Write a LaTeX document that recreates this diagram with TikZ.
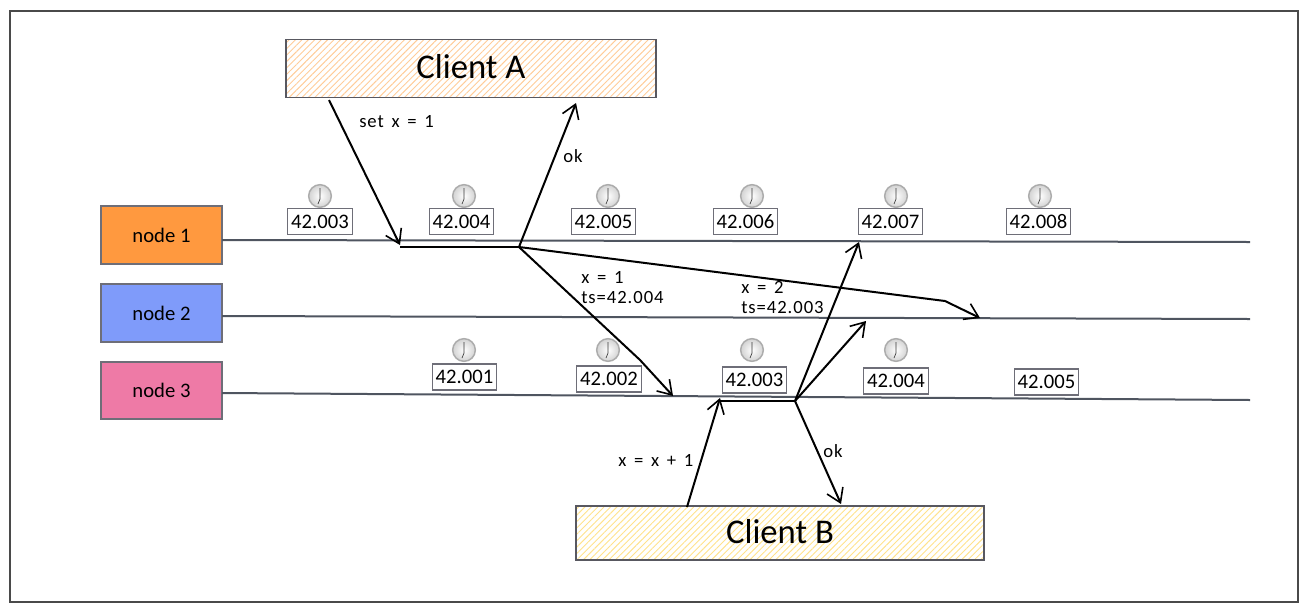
\documentclass[tikz,border=0pt]{standalone}
\usepackage{fontspec}
\setmainfont{Carlito}
\newfontfamily\msgfont[LetterSpace=5,WordSpace=1.5]{Carlito}
\usetikzlibrary{patterns.meta,arrows.meta}
\definecolor{frameGray}{HTML}{4A4A4A}
\definecolor{boxGray}{HTML}{6E6E78}
\definecolor{lineGray}{HTML}{4F5560}
\tikzset{
  nodebox/.style={draw=boxGray,line width=1.4pt,minimum width=90.75pt,minimum height=43pt,inner sep=0pt,font=\fontsize{15.5}{18}\selectfont},
  clientbox/.style={draw=boxGray!80!black,line width=0.9pt,inner sep=0pt,text depth=3pt,font=\fontsize{26}{28}\selectfont},
  tsbox/.style={draw=boxGray,fill=white,line width=0.8pt,minimum width=48.5pt,minimum height=19.5pt,inner sep=0pt,font=\fontsize{15.5}{18}\selectfont},
  msg/.style={font=\fontsize{14}{15}\selectfont\msgfont,align=left,inner sep=0pt},
  wire/.style={line width=1.5pt,black,line join=round},
  send/.style={wire,-{Straight Barb[length=10pt,width=13pt,line width=1.2pt]}},
  timeline/.style={line width=1.5pt,lineGray},
  clockface/.style={circle,minimum size=17pt,inner sep=0pt,draw=gray!65,line width=1.1pt,inner color=white,outer color=gray!35},
  clock/.pic={
    \node[clockface] (-face) {};
    \draw[gray!45!black,line width=0.5pt] (0,-8)--(0,3) (0,3)--(-2,8);
  },
}
\begin{document}
\begin{tikzpicture}[x=0.75pt,y=-0.75pt]
  \useasboundingbox (0,0) rectangle (1308,611);
  % outer frame
  \draw[frameGray,line width=1pt] (10,11)--(1298,11)--(1298,602)--(10,602)--cycle;
  % clients and nodes
  \node[clientbox,pattern={Lines[angle=45,distance=3.4pt,line width=0.7pt]},pattern color=orange!40,minimum width=277.5pt,minimum height=44pt] (clientA) at (471,68.5) {Client A};
  \node[clientbox,pattern={Lines[angle=45,distance=3.4pt,line width=0.7pt]},pattern color=yellow!50!orange!45,minimum width=306pt,minimum height=40.5pt] (clientB) at (780,533) {Client B};
  \node[nodebox,fill={rgb,255:red,255;green,153;blue,63}] (node1) at (161.5,235) {node 1};
  \node[nodebox,fill={rgb,255:red,127;green,155;blue,250}] (node2) at (161.5,313) {node 2};
  \node[nodebox,fill={rgb,255:red,238;green,122;blue,166}] (node3) at (161.5,390.5) {node 3};
  % time lines
  \coordinate (end1) at (1250,242);
  \coordinate (end2) at (1250,319);
  \coordinate (end3) at (1250,400);
  \draw[timeline] (222,240)--(end1);
  \draw[timeline] (222,316)--(end2);
  \draw[timeline] (222,393)--(end3);
  % clocks and timestamps
  \foreach \x/\cx/\lab in {320/320/42.003,461.5/464/42.004,603.5/608/42.005,745.5/752/42.006,890.5/896/42.007,1038.5/1040/42.008}{
    \pic (ct\cx) at (\cx,196) {clock};
    \node[tsbox] (tt\cx) at (\x,221.5) {\lab};
  }
  \foreach \x/\y/\cx/\lab in {464.5/377/464/42.001,609/379/608/42.002,754.5/380/752/42.003,896/381/896/42.004}{
    \pic (cb\cx) at (\cx,350) {clock};
    \node[tsbox] (tb\cx) at (\x,\y) {\lab};
  }
  \node[tsbox] (tb5) at (1046.5,382) {42.005};
  % message points
  \coordinate (aout) at (329,100);
  \coordinate (arecv) at (400,245);
  \coordinate (aproc) at (519,247);
  \coordinate (aok) at (576,103);
  \coordinate (bend1) at (945,301);
  \coordinate (rep2) at (980,318);
  \coordinate (bend3) at (640,360);
  \coordinate (rep3) at (673,396);
  \coordinate (bout) at (687,507);
  \coordinate (brecv) at (720,398);
  \coordinate (bproc) at (795,401);
  \coordinate (brep1) at (859,242);
  \coordinate (brep2) at (866,321);
  \coordinate (bok) at (841,504);
  \draw[send] (aout)--(arecv);
  \draw[wire] (arecv|-aproc)--(aproc);
  \draw[send] (aproc)--(aok);
  \draw[send] (aproc)--(bend1)--(rep2);
  \draw[send] (aproc)--(bend3)--(rep3);
  \draw[send] (bout)--(brecv);
  \draw[wire] (brecv|-bproc)--(bproc);
  \draw[send] (bproc)--(brep1);
  \draw[send] (bproc)--(brep2);
  \draw[send] (bproc)--(bok);
  % labels
  \node[msg,anchor=west] (lset) at (359,122) {set x = 1};
  \node[msg,anchor=west] (lok1) at (563,156) {ok};
  \node[msg,anchor=north west] (lx1) at (581,271) {x = 1\\ts=42.004};
  \node[msg,anchor=north west] (lx2) at (741,281) {x = 2\\ts=42.003};
  \node[msg,anchor=west] (linc) at (618,460) {x = x + 1};
  \node[msg,anchor=west] (lok2) at (823,451) {ok};
\end{tikzpicture}
\end{document}
